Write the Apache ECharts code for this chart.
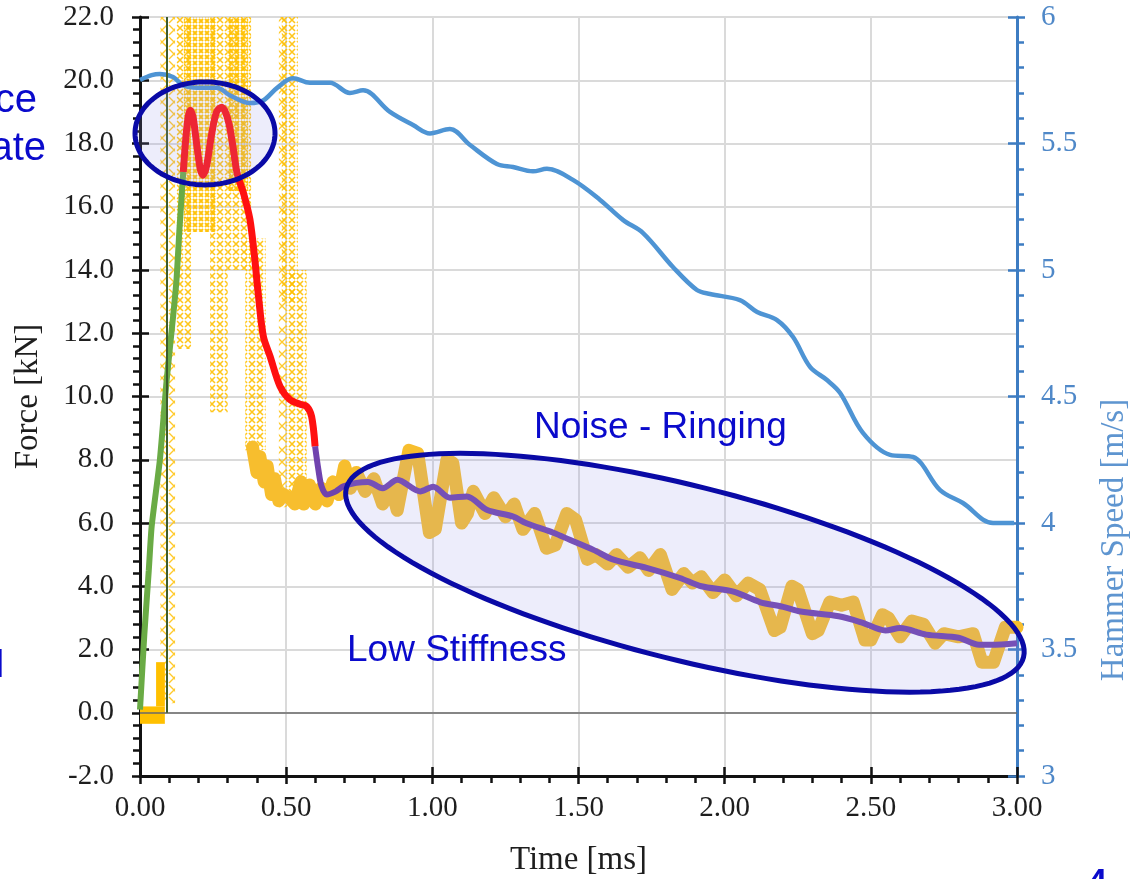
<!DOCTYPE html>
<html><head><meta charset="utf-8">
<script src="https://cdn.jsdelivr.net/npm/echarts@6/dist/echarts.min.js"></script>
<style>html,body{margin:0;padding:0;background:#fff}#c{width:1140px;height:879px}</style>
</head><body><div id="c"></div>
<script>
// ---------------- data ----------------
// Hammer speed (right axis, m/s)
const speedTime  = [0.00, 0.04, 0.068, 0.113, 0.147, 0.195, 0.263, 0.308, 0.376, 0.421, 0.469, 0.523, 0.581, 0.65, 0.718, 0.763, 0.855, 0.934, 0.992, 1.06, 1.129, 1.221, 1.276, 1.344, 1.392, 1.481, 1.574, 1.652, 1.721, 1.823, 1.905, 1.95, 2.052, 2.111, 2.179, 2.234, 2.292, 2.35, 2.395, 2.473, 2.566, 2.644, 2.737, 2.815, 2.918, 2.99];
const speedValue = [5.751, 5.77, 5.775, 5.763, 5.73, 5.72, 5.72, 5.69, 5.66, 5.67, 5.72, 5.758, 5.74, 5.74, 5.70, 5.71, 5.625, 5.573, 5.54, 5.557, 5.494, 5.419, 5.407, 5.39, 5.40, 5.356, 5.277, 5.198, 5.146, 5.012, 4.921, 4.905, 4.881, 4.834, 4.802, 4.735, 4.617, 4.565, 4.514, 4.356, 4.269, 4.261, 4.13, 4.079, 4.0, 4.0];

// Force phases (left axis, kN)
const greenTime  = [0.0, 0.015, 0.03, 0.04, 0.068, 0.091, 0.114, 0.125, 0.135, 0.148];
const greenForce = [0.1, 2.5, 4.5, 5.9, 8.0, 10.5, 12.6, 13.7, 15.3, 17.1];

const redTime  = [0.148, 0.158, 0.166, 0.173, 0.182, 0.195, 0.207, 0.216, 0.228, 0.245, 0.262, 0.279, 0.292, 0.305, 0.318, 0.332, 0.355, 0.376, 0.392, 0.405, 0.422, 0.445, 0.479, 0.513, 0.55, 0.57, 0.587, 0.599];
const redForce = [17.1, 18.3, 18.9, 19.05, 18.8, 17.9, 17.15, 17.0, 17.3, 18.3, 19.0, 19.15, 19.0, 18.6, 17.9, 17.07, 16.4, 15.6, 14.4, 13.2, 11.9, 11.27, 10.32, 9.9, 9.75, 9.69, 9.37, 8.42];

const purpleTime  = [0.599, 0.61, 0.621, 0.639, 0.67, 0.696, 0.74, 0.78, 0.83, 0.88, 0.958, 1.003, 1.06, 1.118, 1.186, 1.277, 1.32, 1.414, 1.47, 1.551, 1.62, 1.733, 1.847, 1.92, 2.03, 2.12, 2.2, 2.26, 2.39, 2.47, 2.55, 2.6, 2.69, 2.8, 2.87, 2.91, 3.0];
const purpleForce = [8.42, 7.7, 7.16, 6.9, 7.0, 7.16, 7.27, 7.3, 7.1, 7.37, 7.0, 7.15, 6.8, 6.84, 6.42, 6.2, 6.0, 5.69, 5.47, 5.15, 4.84, 4.58, 4.26, 4.0, 3.83, 3.5, 3.35, 3.2, 3.05, 2.85, 2.6, 2.68, 2.47, 2.37, 2.15, 2.15, 2.2];

// Raw (noisy) force signal: dense ringing trace
const rawTime  = [0.385, 0.40, 0.41, 0.425, 0.435, 0.45, 0.46, 0.475, 0.49, 0.51, 0.53, 0.55, 0.56, 0.58, 0.60, 0.62, 0.64, 0.66, 0.68, 0.70, 0.72, 0.74, 0.77, 0.80, 0.83, 0.86, 0.88, 0.92, 0.95, 0.99, 1.01, 1.05, 1.07, 1.10, 1.12, 1.14, 1.18, 1.21, 1.25, 1.28, 1.31, 1.35, 1.39, 1.42, 1.46, 1.49, 1.53, 1.56, 1.60, 1.63, 1.67, 1.71, 1.74, 1.78, 1.82, 1.86, 1.89, 1.92, 1.96, 2.00, 2.04, 2.08, 2.12, 2.17, 2.19, 2.23, 2.25, 2.30, 2.32, 2.36, 2.40, 2.44, 2.48, 2.50, 2.54, 2.56, 2.60, 2.64, 2.68, 2.72, 2.75, 2.80, 2.85, 2.88, 2.92, 2.96, 3.0];
const rawForce = [8.4, 7.6, 8.1, 7.3, 7.8, 6.9, 7.4, 6.7, 6.9, 6.8, 6.6, 7.3, 6.6, 7.2, 6.6, 7.1, 6.7, 7.3, 6.9, 7.8, 7.1, 7.6, 7.0, 7.4, 6.6, 7.1, 6.4, 8.3, 8.2, 5.7, 5.8, 8.0, 7.9, 6.0, 6.3, 7.0, 6.3, 6.8, 6.2, 6.6, 5.8, 6.3, 5.2, 5.3, 6.3, 6.1, 4.85, 5.0, 4.7, 5.0, 4.6, 4.9, 4.5, 5.0, 3.9, 4.4, 4.1, 4.3, 3.8, 4.2, 3.7, 4.1, 3.9, 2.6, 2.7, 4.0, 3.9, 2.5, 2.6, 3.5, 3.4, 3.5, 2.3, 2.3, 3.1, 3.0, 2.4, 2.9, 2.8, 2.2, 2.5, 2.4, 2.5, 1.6, 1.6, 2.7, 2.7];
// Raw signal during impact: clusters of samples [tStart, tEnd, lowForce, highForce]
const rawSolid  = [[0.0, 0.085, -0.35, 0.2], [0.055, 0.085, 0.2, 1.6]];
const rawDense  = [[0.15, 0.26, 15.2, 22], [0.30, 0.37, 16.5, 22]];
const rawHatch  = [[0.125, 0.175, 11.5, 22], [0.24, 0.30, 9.5, 22], [0.30, 0.38, 14, 22], [0.36, 0.43, 8.3, 15], [0.485, 0.54, 13, 22], [0.50, 0.57, 6.5, 14]];
const rawSparse = [[0.07, 0.12, 0.3, 22], [0.475, 0.50, 6.5, 22]];

const triggerTime = [0.091];

const zip = (a, b) => a.map((v, i) => [v, b[i]]);

// ---------------- styling helpers ----------------
const SERIF = 'Liberation Serif';
function crossPattern(size, lw, color) {
  const c = document.createElement('canvas');
  c.width = c.height = size;
  const g = c.getContext('2d');
  g.strokeStyle = color; g.lineWidth = lw;
  g.beginPath();
  g.moveTo(1, 1); g.lineTo(size - 1, size - 1);
  g.moveTo(size - 1, 1); g.lineTo(1, size - 1);
  g.stroke();
  return { image: c, repeat: 'repeat' };
}
function columnSeries(data, fill, z) {
  return {
    type: 'custom', data: data, z: z, silent: true, clip: true,
    encode: { x: [0, 1], y: [2, 3] },
    renderItem: (params, api) => {
      const p0 = api.coord([api.value(0), api.value(3)]);
      const p1 = api.coord([api.value(1), api.value(2)]);
      return { type: 'rect', shape: { x: p0[0], y: p0[1], width: p1[0] - p0[0], height: p1[1] - p0[1] }, style: { fill: fill } };
    }
  };
}

// annotation ellipses: centre in data units, semi-axes in px, rotation in degrees
const ellipses = [
  { c: [0.2224, 18.32], rx: 70, ry: 51.5, rot: 0 },
  { c: [1.864, 4.427], rx: 349, ry: 87, rot: 14 }
];

const chart = echarts.init(document.getElementById('c'), null, { renderer: 'canvas' });

const axisLab = { fontFamily: SERIF, fontSize: 29, color: '#1e1e1e' };
const blue = '#3D7CC2';

const option = {
  animation: false,
  backgroundColor: '#ffffff',
  grid: { left: 140, right: 123, top: 17, bottom: 103, containLabel: false, outerBoundsMode: 'none' },
  xAxis: [
    {
      type: 'value', min: 0, max: 3, interval: 0.5, position: 'bottom',
      axisLine: { onZero: false, lineStyle: { color: '#111', width: 3 } },
      axisTick: { length: 8, lineStyle: { color: '#111', width: 2.5 } },
      minorTick: { show: true, splitNumber: 5, length: 7, lineStyle: { color: '#111', width: 2.5 } },
      axisLabel: Object.assign({ margin: 18, formatter: v => v.toFixed(2) }, axisLab),
      splitLine: { show: true, lineStyle: { color: '#dadada', width: 2 } },
      name: 'Time [ms]', nameLocation: 'middle', nameGap: 68,
      nameTextStyle: { fontFamily: SERIF, fontSize: 33, color: '#1e1e1e' }
    },
    {
      type: 'value', min: 0, max: 3, interval: 0.5, position: 'bottom',
      axisLine: { show: false, onZero: false },
      axisTick: { inside: true, length: 9, lineStyle: { color: '#111', width: 2.5 } },
      axisLabel: { show: false }, splitLine: { show: false }
    }
  ],
  yAxis: [
    {
      type: 'value', min: -2, max: 22, interval: 2, position: 'left',
      axisLine: { show: true, onZero: false, lineStyle: { color: '#111', width: 3 } },
      axisTick: { show: true, length: 8, lineStyle: { color: '#111', width: 2.5 } },
      minorTick: { show: true, splitNumber: 5, length: 7, lineStyle: { color: '#111', width: 2.5 } },
      axisLabel: Object.assign({ margin: 26, formatter: v => v.toFixed(1) }, axisLab),
      splitLine: { show: true, lineStyle: { color: '#dadada', width: 2 } },
      name: 'Force [kN]', nameLocation: 'middle', nameGap: 95, nameRotate: 90,
      nameTextStyle: { fontFamily: SERIF, fontSize: 33, color: '#1e1e1e' }
    },
    {
      type: 'value', min: 3, max: 6, interval: 0.5, position: 'right',
      axisLine: { show: true, onZero: false, lineStyle: { color: blue, width: 3 } },
      axisTick: { show: true, length: 8, lineStyle: { color: blue, width: 2.5 } },
      minorTick: { show: true, splitNumber: 5, length: 7, lineStyle: { color: blue, width: 2.5 } },
      axisLabel: { margin: 24, fontFamily: SERIF, fontSize: 29, color: '#4F88C8' },
      splitLine: { show: false }
    },
    {
      type: 'value', min: -2, max: 22, interval: 2, position: 'left',
      axisLine: { show: false, onZero: false },
      axisTick: { show: true, inside: true, length: 9, lineStyle: { color: '#111', width: 2.5 } },
      axisLabel: { show: false }, splitLine: { show: false }
    },
    {
      type: 'value', min: 3, max: 6, interval: 0.5, position: 'right',
      axisLine: { show: false, onZero: false },
      axisTick: { show: true, inside: true, length: 9, lineStyle: { color: blue, width: 2.5 } },
      axisLabel: { show: false }, splitLine: { show: false }
    }
  ],
  series: [
    columnSeries(rawSparse, crossPattern(12, 1.4, 'rgba(255,196,20,0.9)'), 1),
    columnSeries(rawHatch, crossPattern(8, 1.6, 'rgba(255,192,0,0.9)'), 1),
    columnSeries(rawDense, crossPattern(6, 2, 'rgba(255,192,0,0.95)'), 1),
    columnSeries(rawSolid, '#FFC000', 1),
    {
      type: 'line', name: 'raw', data: zip(rawTime, rawForce), symbol: 'none', z: 2, silent: true,
      lineStyle: { color: '#F7BE2E', width: 13, join: 'round', cap: 'round' }
    },
    {
      type: 'line', name: 'zero', data: [], z: 2, silent: true,
      markLine: { silent: true, symbol: 'none', label: { show: false }, lineStyle: { color: '#6a6a6a', width: 1.5, type: 'solid' }, data: [{ yAxis: 0 }] }
    },
    {
      type: 'line', name: 'rise', data: zip(greenTime, greenForce), symbol: 'none', smooth: 0.2, z: 3,
      lineStyle: { color: '#6AAB45', width: 6 }
    },
    {
      type: 'line', name: 'peak', data: zip(redTime, redForce), symbol: 'none', smooth: 0.3, z: 3,
      lineStyle: { color: '#FF1010', width: 7 }
    },
    {
      type: 'line', name: 'tail', data: zip(purpleTime, purpleForce), symbol: 'none', smooth: 0.3, z: 3,
      lineStyle: { color: '#7043AE', width: 6 }
    },
    {
      type: 'line', name: 'speed', yAxisIndex: 1, data: zip(speedTime, speedValue), symbol: 'none', smooth: 0.35, z: 4,
      lineStyle: { color: '#4E94D4', width: 4.5 }
    },
    {
      type: 'line', name: 'trigger', data: [], z: 5, silent: true,
      markLine: {
        silent: true, symbol: 'none', label: { show: false },
        lineStyle: { color: '#3B5A2C', width: 2, type: 'solid' },
        data: triggerTime.map(t => [{ coord: [t, 0] }, { coord: [t, 22] }])
      }
    },
    {
      type: 'custom', name: 'annotations', z: 6, silent: true, clip: false,
      data: ellipses.map(e => e.c),
      renderItem: (params, api) => {
        const e = ellipses[params.dataIndex];
        const c = api.coord(e.c);
        const th = e.rot * Math.PI / 180;
        const pts = [];
        for (let k = 0; k < 144; k++) {
          const a = k / 144 * Math.PI * 2;
          const px = e.rx * Math.cos(a), py = e.ry * Math.sin(a);
          pts.push([c[0] + px * Math.cos(th) - py * Math.sin(th), c[1] + px * Math.sin(th) + py * Math.cos(th)]);
        }
        return { type: 'polygon', shape: { points: pts }, style: { fill: 'rgba(150,150,230,0.17)', stroke: '#0A0AA6', lineWidth: 5 } };
      }
    }
  ],
  graphic: [
    { type: 'text', x: 1114, y: 540, rotation: Math.PI / 2, silent: true, z: 100,
      style: { text: 'Hammer Speed [m/s]', font: '33px "Liberation Serif"', fill: '#5E95D0', align: 'center', verticalAlign: 'middle' } },
    { type: 'text', x: 534, y: 428, silent: true, z: 100,
      style: { text: 'Noise - Ringing', font: '37px "Liberation Sans"', fill: '#0A0ACC', align: 'left', verticalAlign: 'middle' } },
    { type: 'text', x: 347, y: 651, silent: true, z: 100,
      style: { text: 'Low Stiffness', font: '37px "Liberation Sans"', fill: '#0A0ACC', align: 'left', verticalAlign: 'middle' } },
    { type: 'text', x: 37, y: 101, silent: true, z: 100,
      style: { text: 'ce', font: '40px "Liberation Sans"', fill: '#0A0ACC', align: 'right', verticalAlign: 'middle' } },
    { type: 'text', x: 46, y: 149, silent: true, z: 100,
      style: { text: 'ate', font: '40px "Liberation Sans"', fill: '#0A0ACC', align: 'right', verticalAlign: 'middle' } },
    { type: 'text', x: 5, y: 666, silent: true, z: 100,
      style: { text: 'N', font: '40px "Liberation Sans"', fill: '#0A0ACC', align: 'right', verticalAlign: 'middle' } },
    { type: 'text', x: 1088, y: 866, silent: true, z: 100,
      style: { text: '4', font: 'bold 34px "Liberation Sans"', fill: '#0A0ACC', align: 'left', verticalAlign: 'top' } }
  ]
};
chart.setOption(option);
</script>
</body></html>
